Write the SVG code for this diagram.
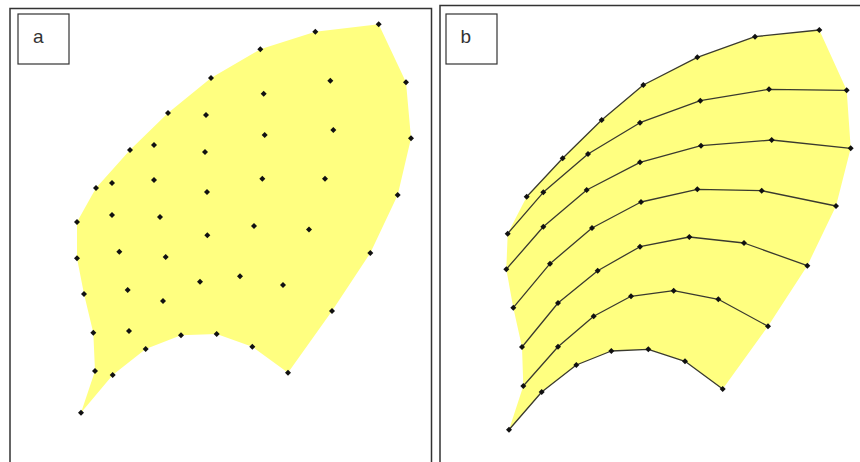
<svg xmlns="http://www.w3.org/2000/svg" xmlns:xlink="http://www.w3.org/1999/xlink" width="860" height="462" viewBox="0 0 860 462">
<style>
.frame{fill:none;stroke:#333;stroke-width:1.5}
.lbl{fill:#fff;stroke:#333;stroke-width:1.2}
.txt{font-family:"Liberation Sans",Arial,sans-serif;font-size:19px;fill:#333}
.leaf{fill:#FFFF80;stroke:none}
.ln{fill:none;stroke:#3a3a2e;stroke-width:1.3;stroke-linejoin:round}
</style>
<defs>
<polygon id="d" points="0,-3 3,0 0,3 -3,0" fill="#111"/>
</defs>
<rect width="860" height="462" fill="#fff"/>

<g id="panel-a">
<path class="frame" d="M10,470 V8.5 H431.5 V470"/>
<g id="label-a"><rect class="lbl" x="18" y="14" width="51" height="50"/><text class="txt" x="33" y="43">a</text></g>
<polygon class="leaf" points="378.7,24.3 406,82.3 411,138.3 397.7,195 370.3,253 332,311 288,372.7 252.3,346.7 216.7,334 181,335.3 145.7,349 112.7,375 81,412.7 95,371 93.3,332.7 84,294 77,258.3 77,222 96,188 130,150 168,113 211,78 260.3,49.3 315.3,31.7"/>
<g id="dots-a">
<use href="#d" x="378.7" y="24.3"/><use href="#d" x="406" y="82.3"/><use href="#d" x="411" y="138.3"/><use href="#d" x="397.7" y="195"/><use href="#d" x="370.3" y="253"/><use href="#d" x="332" y="311"/><use href="#d" x="288" y="372.7"/>
<use href="#d" x="252.3" y="346.7"/><use href="#d" x="216.7" y="334"/><use href="#d" x="181" y="335.3"/><use href="#d" x="145.7" y="349"/><use href="#d" x="112.7" y="375"/><use href="#d" x="81" y="412.7"/>
<use href="#d" x="95" y="371"/><use href="#d" x="93.3" y="332.7"/><use href="#d" x="84" y="294"/><use href="#d" x="77" y="258.3"/><use href="#d" x="77" y="222"/><use href="#d" x="96" y="188"/><use href="#d" x="130" y="150"/><use href="#d" x="168" y="113"/><use href="#d" x="211" y="78"/><use href="#d" x="260.3" y="49.3"/><use href="#d" x="315.3" y="31.7"/>
<use href="#d" x="330.3" y="80.7"/><use href="#d" x="263.7" y="93.7"/><use href="#d" x="206" y="115"/><use href="#d" x="264.7" y="135"/><use href="#d" x="333.3" y="130"/><use href="#d" x="154" y="145"/><use href="#d" x="205" y="152"/>
<use href="#d" x="112" y="183"/><use href="#d" x="154" y="180"/><use href="#d" x="207" y="192"/><use href="#d" x="262.3" y="178.7"/><use href="#d" x="325" y="178.7"/>
<use href="#d" x="112" y="215"/><use href="#d" x="160" y="217"/><use href="#d" x="207.3" y="235.3"/><use href="#d" x="254" y="226"/><use href="#d" x="309" y="229.5"/>
<use href="#d" x="119.3" y="251.7"/><use href="#d" x="165.7" y="257"/><use href="#d" x="200" y="281.7"/><use href="#d" x="240" y="276.3"/><use href="#d" x="283" y="285"/>
<use href="#d" x="127.7" y="290"/><use href="#d" x="163" y="301"/><use href="#d" x="129" y="331"/>
</g>
</g>

<g id="panel-b">
<path class="frame" d="M440,470 V5.5 H870"/>
<g id="label-b"><rect class="lbl" x="446" y="14" width="51" height="50"/><text class="txt" x="460.5" y="43">b</text></g>
<polygon class="leaf" points="526.7,196.7 562.7,158.3 601.7,120 643.3,85 697.3,57.3 755,36.7 819.3,30 846.7,90.3 850.7,148.3 836,206 807.3,265.7 768,326.3 722.7,389 685,361.3 648.3,349.3 611.3,351 576.3,365 541.7,392 509,429.7 523.3,386 522,347 513.3,307.7 506.3,269.3 507.7,233.7"/>
<g id="connectors">
<polyline class="ln" points="526.7,196.7 562.7,158.3 601.7,120 643.3,85 697.3,57.3 755,36.7 819.3,30"/>
<polyline class="ln" points="507.7,233.7 543.3,192.3 588,154 640,122.7 700.3,100.7 769,89.3 846.7,90.3"/>
<polyline class="ln" points="506.3,269.3 543.3,226.7 586.7,190 640,162.3 701,145.7 771.7,140 850.7,148.3"/>
<polyline class="ln" points="513.3,307.7 550,263.7 592,228 641,202 697.3,189.3 761.7,190.7 836,206"/>
<polyline class="ln" points="522,347 558,303 597.7,270.7 640,246.7 689.3,237 744,243 807.3,265.7"/>
<polyline class="ln" points="523.3,386 558,346.7 593.7,316.3 631,296.3 673.7,290.7 718.3,299.3 768,326.3"/>
<polyline class="ln" points="509,429.7 541.7,392 576.3,365 611.3,351 648.3,349.3 685,361.3 722.7,389"/>
</g>
<g id="dots-b">
<use href="#d" x="526.7" y="196.7"/><use href="#d" x="562.7" y="158.3"/><use href="#d" x="601.7" y="120"/><use href="#d" x="643.3" y="85"/><use href="#d" x="697.3" y="57.3"/><use href="#d" x="755" y="36.7"/><use href="#d" x="819.3" y="30"/>
<use href="#d" x="507.7" y="233.7"/><use href="#d" x="543.3" y="192.3"/><use href="#d" x="588" y="154"/><use href="#d" x="640" y="122.7"/><use href="#d" x="700.3" y="100.7"/><use href="#d" x="769" y="89.3"/><use href="#d" x="846.7" y="90.3"/>
<use href="#d" x="506.3" y="269.3"/><use href="#d" x="543.3" y="226.7"/><use href="#d" x="586.7" y="190"/><use href="#d" x="640" y="162.3"/><use href="#d" x="701" y="145.7"/><use href="#d" x="771.7" y="140"/><use href="#d" x="850.7" y="148.3"/>
<use href="#d" x="513.3" y="307.7"/><use href="#d" x="550" y="263.7"/><use href="#d" x="592" y="228"/><use href="#d" x="641" y="202"/><use href="#d" x="697.3" y="189.3"/><use href="#d" x="761.7" y="190.7"/><use href="#d" x="836" y="206"/>
<use href="#d" x="522" y="347"/><use href="#d" x="558" y="303"/><use href="#d" x="597.7" y="270.7"/><use href="#d" x="640" y="246.7"/><use href="#d" x="689.3" y="237"/><use href="#d" x="744" y="243"/><use href="#d" x="807.3" y="265.7"/>
<use href="#d" x="523.3" y="386"/><use href="#d" x="558" y="346.7"/><use href="#d" x="593.7" y="316.3"/><use href="#d" x="631" y="296.3"/><use href="#d" x="673.7" y="290.7"/><use href="#d" x="718.3" y="299.3"/><use href="#d" x="768" y="326.3"/>
<use href="#d" x="509" y="429.7"/><use href="#d" x="541.7" y="392"/><use href="#d" x="576.3" y="365"/><use href="#d" x="611.3" y="351"/><use href="#d" x="648.3" y="349.3"/><use href="#d" x="685" y="361.3"/><use href="#d" x="722.7" y="389"/>
</g>
</g>
</svg>
